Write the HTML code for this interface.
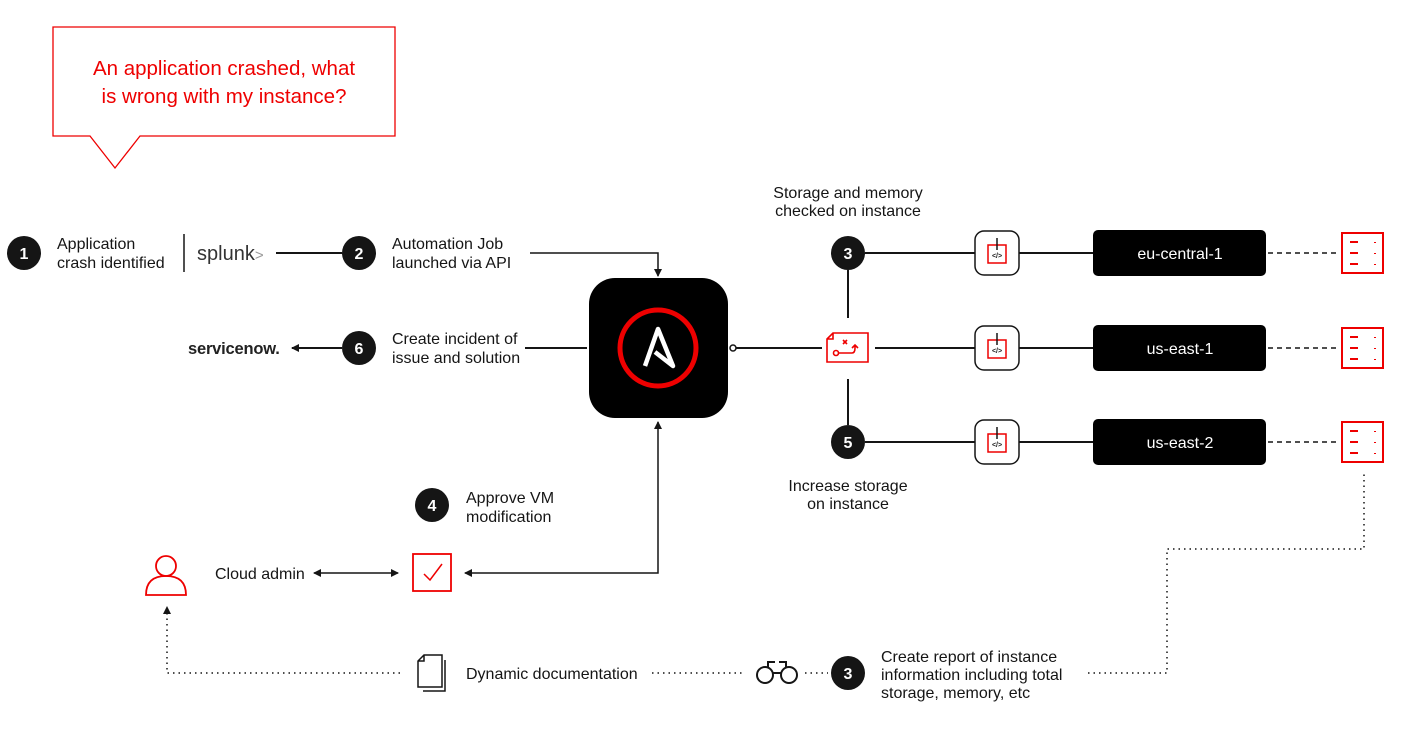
<!DOCTYPE html>
<html><head><meta charset="utf-8"><style>
body{margin:0;background:#fff;width:1417px;height:729px;overflow:hidden}
svg text{font-family:"Liberation Sans",sans-serif;font-size:16px;fill:#151515}
</style></head><body>
<svg width="1417" height="729" viewBox="0 0 1417 729" xmlns="http://www.w3.org/2000/svg">
<defs>
<marker id="ah" markerWidth="8" markerHeight="8" refX="7" refY="4" orient="auto" markerUnits="userSpaceOnUse"><path d="M0,0 L8,4 L0,8 z" fill="#151515"/></marker>
<marker id="ahs" markerWidth="8" markerHeight="8" refX="1" refY="4" orient="auto" markerUnits="userSpaceOnUse"><path d="M8,0 L0,4 L8,8 z" fill="#151515"/></marker>
<g id="code"><rect x="-22" y="-22" width="44" height="44" rx="9" fill="#fff" stroke="#151515" stroke-width="1.5"/><rect x="-9" y="-8" width="18" height="18" fill="none" stroke="#ee0000" stroke-width="1.5"/><line x1="0" y1="-15" x2="0" y2="-3" stroke="#151515" stroke-width="1.5"/><text x="0" y="5" text-anchor="middle" style="font-size:7px;font-weight:bold">&lt;/&gt;</text></g>
<g id="srv" fill="none" stroke="#ee0000" stroke-width="2"><rect x="0" y="0" width="41" height="40"/><line x1="8" y1="9" x2="16" y2="9"/><line x1="8" y1="20" x2="16" y2="20"/><line x1="8" y1="31" x2="16" y2="31"/><line x1="33" y1="9" x2="33" y2="10"/><line x1="33" y1="20" x2="33" y2="21"/><line x1="33" y1="31" x2="33" y2="32"/></g>
</defs>
<path d="M53,27 H395 V136 H140 L115,168 L90,136 H53 Z" fill="#fff" stroke="#ee0000" stroke-width="1.3"/>
<text x="224" y="75" text-anchor="middle" style="fill:#ee0000;font-size:20.5px">An application crashed, what</text>
<text x="224" y="103" text-anchor="middle" style="fill:#ee0000;font-size:20.5px">is wrong with my instance?</text>
<g>
<circle cx="24" cy="253" r="17" fill="#151515"/><text x="24" y="259" text-anchor="middle" style="fill:#fff;font-size:16px;font-weight:bold">1</text>
<circle cx="359" cy="253" r="17" fill="#151515"/><text x="359" y="259" text-anchor="middle" style="fill:#fff;font-size:16px;font-weight:bold">2</text>
<circle cx="359" cy="348" r="17" fill="#151515"/><text x="359" y="354" text-anchor="middle" style="fill:#fff;font-size:16px;font-weight:bold">6</text>
<circle cx="848" cy="253" r="17" fill="#151515"/><text x="848" y="259" text-anchor="middle" style="fill:#fff;font-size:16px;font-weight:bold">3</text>
<circle cx="848" cy="442" r="17" fill="#151515"/><text x="848" y="448" text-anchor="middle" style="fill:#fff;font-size:16px;font-weight:bold">5</text>
<circle cx="432" cy="505" r="17" fill="#151515"/><text x="432" y="511" text-anchor="middle" style="fill:#fff;font-size:16px;font-weight:bold">4</text>
<circle cx="848" cy="673" r="17" fill="#151515"/><text x="848" y="679" text-anchor="middle" style="fill:#fff;font-size:16px;font-weight:bold">3</text>
</g>
<text x="57" y="249">Application</text><text x="57" y="268">crash identified</text>
<line x1="184" y1="234" x2="184" y2="272" stroke="#151515" stroke-width="1.5"/>
<text x="197" y="260" style="font-size:20px;fill:#333">splunk<tspan style="fill:#999;font-size:15px">&gt;</tspan></text>
<line x1="276" y1="253" x2="342" y2="253" stroke="#151515" stroke-width="2"/>
<text x="392" y="249">Automation Job</text><text x="392" y="268">launched via API</text>
<polyline points="530,253 658,253 658,276" fill="none" stroke="#151515" stroke-width="1.5" marker-end="url(#ah)"/>
<text x="392" y="344">Create incident of</text><text x="392" y="363">issue and solution</text>
<line x1="525" y1="348" x2="587" y2="348" stroke="#151515" stroke-width="2"/>
<line x1="342" y1="348" x2="292" y2="348" stroke="#151515" stroke-width="2" marker-end="url(#ah)"/>
<text x="188" y="354" style="font-size:16.5px;font-weight:bold;letter-spacing:-0.2px;fill:#222">servicenow.</text>
<rect x="589" y="278" width="139" height="140" rx="26" fill="#000"/>
<circle cx="658" cy="348" r="38" fill="none" stroke="#ee0000" stroke-width="5"/>
<path d="M645,366 L658,329 L673,366 L655,352" fill="none" stroke="#fff" stroke-width="4.5" stroke-linejoin="round"/>
<circle cx="733" cy="348" r="3" fill="#fff" stroke="#151515" stroke-width="1.5"/>
<line x1="736" y1="348" x2="822" y2="348" stroke="#151515" stroke-width="2"/>
<g fill="none" stroke="#ee0000" stroke-width="1.6"><path d="M833,333 H868 V362 H827 V339 Z M827,339 H833 V333"/><circle cx="836" cy="353" r="2.5"/><path d="M839,353 H852 Q855,353 855,348 V345 M852,348 L855,345 L858,348"/><path d="M843,340 L847,344 M847,340 L843,344"/></g>
<line x1="875" y1="348" x2="975" y2="348" stroke="#151515" stroke-width="2"/>
<line x1="848" y1="270" x2="848" y2="318" stroke="#151515" stroke-width="2"/>
<line x1="848" y1="379" x2="848" y2="425" stroke="#151515" stroke-width="2"/>
<line x1="865" y1="253" x2="975" y2="253" stroke="#151515" stroke-width="2"/>
<line x1="865" y1="442" x2="975" y2="442" stroke="#151515" stroke-width="2"/>
<text x="848" y="198" text-anchor="middle">Storage and memory</text><text x="848" y="216" text-anchor="middle">checked on instance</text>
<text x="848" y="491" text-anchor="middle">Increase storage</text><text x="848" y="509" text-anchor="middle">on instance</text>
<g stroke="#151515" stroke-width="2"><line x1="1019" y1="253" x2="1093" y2="253"/><line x1="1019" y1="348" x2="1093" y2="348"/><line x1="1019" y1="442" x2="1093" y2="442"/></g>
<use href="#code" x="997" y="253"/><use href="#code" x="997" y="348"/><use href="#code" x="997" y="442"/>
<rect x="1093" y="230" width="173" height="46" rx="5" fill="#000"/><text x="1180" y="259" text-anchor="middle" style="fill:#fff">eu-central-1</text>
<rect x="1093" y="325" width="173" height="46" rx="5" fill="#000"/><text x="1180" y="354" text-anchor="middle" style="fill:#fff">us-east-1</text>
<rect x="1093" y="419" width="173" height="46" rx="5" fill="#000"/><text x="1180" y="448" text-anchor="middle" style="fill:#fff">us-east-2</text>
<g stroke="#151515" stroke-width="1.5" stroke-dasharray="5,4"><line x1="1268" y1="253" x2="1340" y2="253"/><line x1="1268" y1="348" x2="1340" y2="348"/><line x1="1268" y1="442" x2="1340" y2="442"/></g>
<use href="#srv" x="1342" y="233"/><use href="#srv" x="1342" y="328"/><use href="#srv" x="1342" y="422"/>
<text x="466" y="503">Approve VM</text><text x="466" y="522">modification</text>
<g fill="none" stroke="#ee0000" stroke-width="1.8"><circle cx="166" cy="566" r="10"/><path d="M146,595 Q146,576 166,576 Q186,576 186,595 Z"/></g>
<text x="215" y="579">Cloud admin</text>
<line x1="314" y1="573" x2="398" y2="573" stroke="#151515" stroke-width="1.5" marker-start="url(#ahs)" marker-end="url(#ah)"/>
<rect x="413" y="554" width="38" height="37" fill="none" stroke="#ee0000" stroke-width="1.8"/>
<path d="M424,574 L430,580 L442,564" fill="none" stroke="#ee0000" stroke-width="1.5"/>
<polyline points="658,422 658,573 465,573" fill="none" stroke="#151515" stroke-width="1.5" marker-end="url(#ah)" marker-start="url(#ahs)"/>
<g fill="none" stroke="#151515" stroke-width="1.5" stroke-dasharray="1.5,4">
<polyline points="400,673 167,673 167,612"/>
<line x1="652" y1="673" x2="745" y2="673"/><line x1="805" y1="673" x2="828" y2="673"/>
<polyline points="1088,673 1167,673 1167,549 1364,549 1364,472"/>
</g>
<path d="M163,614 L167,606 L171,614 Z" fill="#151515"/>
<g fill="none" stroke="#151515" stroke-width="1.5"><path d="M424,655 H442 V687 H418 V661 Z M418,661 H424 V655"/><path d="M445,660 V691 H423"/></g>
<text x="466" y="679">Dynamic documentation</text>
<g fill="none" stroke="#151515" stroke-width="2"><circle cx="765" cy="675" r="8"/><circle cx="789" cy="675" r="8"/><path d="M772,673 H782 M768,667 V662 H775 M786,667 V662 H779"/></g>
<text x="881" y="662">Create report of instance</text><text x="881" y="680">information including total</text><text x="881" y="698">storage, memory, etc</text>
</svg>
</body></html>
